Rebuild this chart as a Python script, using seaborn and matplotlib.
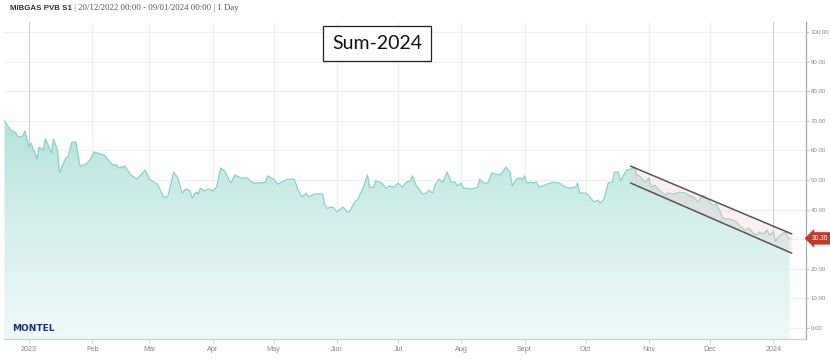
import numpy as np
import pandas as pd
import matplotlib
matplotlib.use("Agg")
import matplotlib.pyplot as plt
import matplotlib.dates as mdates
from matplotlib.colors import LinearSegmentedColormap
import seaborn as sns

# ---------------- data ----------------
dates = [
    "2022-12-20", "2022-12-23", "2022-12-25", "2022-12-27", "2022-12-29", "2022-12-30",
    "2023-01-01", "2023-01-02", "2023-01-05", "2023-01-06", "2023-01-08", "2023-01-09",
    "2023-01-10", "2023-01-12", "2023-01-13", "2023-01-15", "2023-01-16", "2023-01-19",
    "2023-01-20", "2023-01-22", "2023-01-24", "2023-01-26", "2023-01-29", "2023-01-31",
    "2023-02-02", "2023-02-05", "2023-02-07", "2023-02-11", "2023-02-13", "2023-02-14",
    "2023-02-17", "2023-02-20", "2023-02-23", "2023-02-27", "2023-03-01", "2023-03-05",
    "2023-03-08", "2023-03-10", "2023-03-13", "2023-03-15", "2023-03-17", "2023-03-19",
    "2023-03-21", "2023-03-22", "2023-03-24", "2023-03-25", "2023-03-26", "2023-03-28",
    "2023-03-30", "2023-04-01", "2023-04-03", "2023-04-05", "2023-04-07", "2023-04-10",
    "2023-04-12", "2023-04-15", "2023-04-18", "2023-04-21", "2023-04-24", "2023-04-27",
    "2023-04-28", "2023-05-01", "2023-05-03", "2023-05-06", "2023-05-08", "2023-05-11",
    "2023-05-13", "2023-05-15", "2023-05-17", "2023-05-18", "2023-05-21", "2023-05-25",
    "2023-05-26", "2023-05-27", "2023-05-30", "2023-06-01", "2023-06-04", "2023-06-06",
    "2023-06-07", "2023-06-10", "2023-06-11", "2023-06-14", "2023-06-16", "2023-06-17",
    "2023-06-19", "2023-06-20", "2023-06-23", "2023-06-25", "2023-06-27", "2023-06-29",
    "2023-07-01", "2023-07-03", "2023-07-05", "2023-07-07", "2023-07-08", "2023-07-10",
    "2023-07-13", "2023-07-15", "2023-07-16", "2023-07-18", "2023-07-19", "2023-07-21",
    "2023-07-23", "2023-07-25", "2023-07-27", "2023-07-29", "2023-07-30", "2023-08-01",
    "2023-08-02", "2023-08-06", "2023-08-09", "2023-08-10", "2023-08-12", "2023-08-14",
    "2023-08-16", "2023-08-18", "2023-08-20", "2023-08-23", "2023-08-25", "2023-08-26",
    "2023-08-28", "2023-08-30", "2023-08-31", "2023-09-01", "2023-09-02", "2023-09-04",
    "2023-09-05", "2023-09-07", "2023-09-08", "2023-09-11", "2023-09-12", "2023-09-15",
    "2023-09-18", "2023-09-21", "2023-09-23", "2023-09-26", "2023-09-27", "2023-09-28",
    "2023-10-01", "2023-10-03", "2023-10-05", "2023-10-07", "2023-10-08", "2023-10-10",
    "2023-10-12", "2023-10-14", "2023-10-15", "2023-10-17", "2023-10-18", "2023-10-21",
    "2023-10-23", "2023-10-25", "2023-10-26", "2023-10-28", "2023-10-30", "2023-10-31",
    "2023-11-01", "2023-11-02", "2023-11-04", "2023-11-06", "2023-11-09", "2023-11-10",
    "2023-11-13", "2023-11-16", "2023-11-19", "2023-11-21", "2023-11-23", "2023-11-25",
    "2023-11-27", "2023-11-28", "2023-11-30", "2023-12-02", "2023-12-04", "2023-12-06",
    "2023-12-07", "2023-12-09", "2023-12-11", "2023-12-14", "2023-12-16", "2023-12-18",
    "2023-12-20", "2023-12-22", "2023-12-24", "2023-12-25", "2023-12-27", "2023-12-29",
    "2023-12-30", "2024-01-01", "2024-01-02", "2024-01-03", "2024-01-06", "2024-01-07",
    "2024-01-08", "2024-01-09",
]
prices = [
    70.0, 66.9, 66.2, 64.5, 64.9, 66.6,
    61.1, 62.5, 57.1, 61.1, 60.1, 63.9,
    62.5, 59.1, 63.9, 60.1, 52.4, 57.4,
    57.8, 62.8, 62.8, 54.7, 55.4, 56.8,
    59.5, 58.8, 58.4, 55.1, 55.1, 54.1,
    54.7, 51.7, 50.3, 53.4, 50.3, 48.6,
    44.3, 44.3, 52.7, 50.7, 45.6, 47.0,
    46.3, 43.9, 45.9, 45.3, 47.3, 46.3,
    47.0, 46.3, 47.6, 54.1, 53.0, 49.0,
    51.7, 50.7, 50.7, 49.0, 49.0, 49.3,
    51.4, 50.3, 48.6, 49.7, 50.3, 50.3,
    46.6, 44.3, 45.6, 44.3, 45.3, 45.3,
    41.6, 40.5, 40.9, 39.2, 40.9, 39.2,
    39.2, 42.9, 43.2, 47.6, 51.7, 47.6,
    47.6, 49.7, 49.0, 47.3, 48.0, 47.6,
    49.0, 47.6, 49.3, 49.7, 51.4, 48.0,
    45.3, 45.6, 46.6, 45.6, 48.3, 50.3,
    49.3, 52.7, 49.3, 49.3, 48.0, 49.0,
    47.3, 47.0, 47.6, 50.3, 49.0, 49.0,
    52.4, 52.0, 51.7, 54.4, 52.4, 48.0,
    50.3, 50.7, 50.0, 51.4, 49.0, 49.3,
    49.0, 49.3, 47.6, 48.3, 48.6, 49.3,
    49.0, 47.6, 47.3, 47.6, 49.0, 45.6,
    45.6, 44.3, 42.6, 43.2, 42.2, 43.6,
    49.0, 49.3, 52.7, 52.7, 49.7, 53.4,
    53.7, 54.4, 52.0, 51.0, 49.3, 50.0,
    50.7, 47.6, 48.3, 46.6, 44.9, 45.6,
    45.3, 45.9, 45.6, 44.6, 44.3, 42.6,
    44.6, 44.6, 43.2, 41.6, 41.9, 39.2,
    37.2, 36.8, 36.8, 35.8, 34.1, 33.1,
    33.8, 32.1, 31.5, 32.4, 31.8, 33.1,
    31.4, 32.4, 29.1, 30.4, 32.1, 32.4,
    30.7, 30.3,
]
last_price = 30.30

channel_dates = ["2023-10-23", "2024-01-10"]
channel_upper = [54.7, 31.8]
channel_lower = [49.0, 25.3]

month_ticks = ["2023-01-01", "2023-02-01", "2023-03-01", "2023-04-01", "2023-05-01",
               "2023-06-01", "2023-07-01", "2023-08-01", "2023-09-01", "2023-10-01",
               "2023-11-01", "2023-12-01", "2024-01-01"]
month_labels = ["2023", "Feb", "Mar", "Apr", "May", "Jun", "Jul", "Aug", "Sept",
                "Oct", "Nov", "Dec", "2024"]
year_ticks = ["2023-01-01", "2024-01-01"]
y_ticks = [0, 10, 20, 30, 40, 50, 60, 70, 80, 90, 100]

header_bold = "MIBGAS PVB S1"
header_rest = " | 20/12/2022 00:00 - 09/01/2024 00:00 | 1 Day"
box_title = "Sum-2024"
logo = "MONTEL"

# ---------------- plot ----------------
sns.set_style("white")
plt.rcParams["font.family"] = ["Liberation Sans", "DejaVu Sans"]

df = pd.DataFrame({"date": pd.to_datetime(dates), "price": prices})

fig = plt.figure(figsize=(8.3, 3.64), dpi=100)
ax = fig.add_axes([0.0054, 0.0687, 0.9657, 0.8709])

xmin = pd.Timestamp("2022-12-20")
xmax = pd.Timestamp("2024-01-17")
ybot, ytop = -3.7, 103.4

# grid
for yv in y_ticks:
    ax.axhline(yv, color="#f0f0f0", lw=0.8, zorder=0)
mt = pd.to_datetime(month_ticks)
for d in mt:
    col = "#d2d2d2" if d.strftime("%Y-%m-%d") in year_ticks else "#efefef"
    ax.axvline(d, color=col, lw=0.9, zorder=0)

# gradient area
xnum = mdates.date2num(df["date"])
poly = ax.fill_between(df["date"], df["price"], ybot, color="none", lw=0)
cmap = LinearSegmentedColormap.from_list("tealgrad", ["#eef9f8", "#d5f0ec", "#b3e2db"])
grad = np.linspace(0, 1, 256).reshape(-1, 1)
im = ax.imshow(grad, extent=[xnum.min(), xnum.max(), ybot, 72], origin="lower",
               aspect="auto", cmap=cmap, zorder=1, interpolation="bicubic")
im.set_clip_path(poly.get_paths()[0], transform=ax.transData)

sns.lineplot(data=df, x="date", y="price", ax=ax, color="#86d3c9", lw=0.9, zorder=3)

# channel
cd = pd.to_datetime(channel_dates)
ax.fill_between(cd, channel_lower, channel_upper, color="#f6caca", alpha=0.3, lw=0, zorder=4)
ax.plot(cd, channel_upper, color="#555555", lw=1.1, zorder=5)
ax.plot(cd, channel_lower, color="#555555", lw=1.1, zorder=5)

ax.set_xlim(xmin, xmax)
ax.set_ylim(ybot, ytop)

# axes styling
for s in ["top", "left"]:
    ax.spines[s].set_visible(False)
ax.spines["right"].set_color("#aaaaaa")
ax.spines["bottom"].set_color("#cccccc")
ax.spines["right"].set_linewidth(0.9)
ax.spines["bottom"].set_linewidth(0.9)

ax.yaxis.tick_right()
ax.set_yticks(y_ticks)
ax.set_yticklabels([f"{v:.2f}" for v in y_ticks])
ax.set_xticks(mt)
ax.set_xticklabels(month_labels)
ax.tick_params(axis="y", which="both", right=True, length=2.5, width=0.6, color="#bbbbbb",
               labelsize=4.4, labelcolor="#888888", pad=1)
ax.tick_params(axis="x", which="both", bottom=True, length=3, width=0.6, color="#cccccc",
               labelsize=5.2, labelcolor="#888888", pad=2)
ax.set_xlabel("")
ax.set_ylabel("")

# last value marker
trans = matplotlib.transforms.blended_transform_factory(ax.transAxes, ax.transData)
ax.text(1.007, last_price, f"{last_price:.2f}", transform=trans, fontsize=4.8,
        color="white", va="center", ha="left", zorder=10, clip_on=False,
        bbox=dict(boxstyle="larrow,pad=0.35", fc="#c0392b", ec="#c0392b", lw=0.5))

# header
t1 = fig.text(0.012, 0.978, header_bold, fontsize=5.7, fontweight="bold", color="#333333",
              va="center", ha="left", family=["Liberation Sans"])
plt.annotate(header_rest, xy=(1.0, 0.5), xycoords=t1, va="center", ha="left",
             fontsize=6.3, color="#555555", family=["Liberation Serif"],
             annotation_clip=False)

# title box
fig.text(0.4545, 0.881, box_title, fontsize=14, color="#111111", ha="center", va="center",
         family=["Lato", "DejaVu Sans"],
         bbox=dict(boxstyle="square,pad=0.45", fc="white", ec="#222222", lw=0.9))

# logo
ax.text(0.009, 0.02, logo, transform=ax.transAxes, fontsize=6.5, fontweight="bold",
        color="#1d2f6f", ha="left", va="bottom", zorder=10, family=["DejaVu Sans"])

fig.savefig("out.png", dpi=100)
